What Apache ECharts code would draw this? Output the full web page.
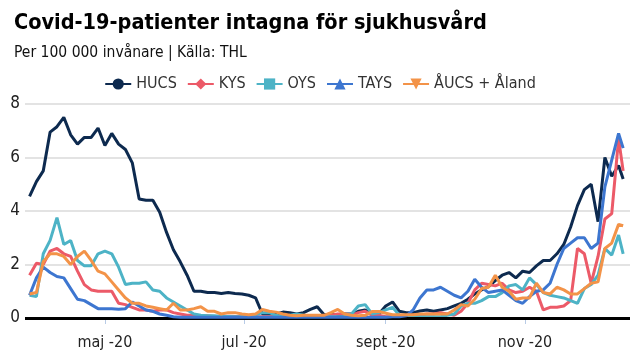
<!DOCTYPE html>
<html><head><meta charset="utf-8">
<script src="https://cdn.jsdelivr.net/npm/echarts@6/dist/echarts.min.js"></script>
<style>html,body{margin:0;padding:0;background:#fff}#c{width:640px;height:360px}</style>
</head><body><div id="c"></div>
<script>
const dates = ['03-29','04-01','04-04','04-07','04-10','04-13','04-16','04-19','04-22','04-25','04-28',
'05-01','05-04','05-07','05-10','05-13','05-16','05-19','05-22','05-25','05-28','05-31',
'06-03','06-06','06-09','06-12','06-15','06-18','06-21','06-24','06-27','06-30',
'07-03','07-06','07-09','07-12','07-15','07-18','07-21','07-24','07-27','07-30',
'08-02','08-05','08-08','08-11','08-14','08-17','08-20','08-23','08-26','08-29',
'09-01','09-04','09-07','09-10','09-13','09-16','09-19','09-22','09-25','09-28',
'10-01','10-04','10-07','10-10','10-13','10-16','10-19','10-22','10-25','10-28','10-31',
'11-03','11-06','11-09','11-12','11-15','11-18','11-21','11-24','11-27','11-30',
'12-03','12-06','12-09','12-12','12-14'];

const hucs = [4.55,5.1,5.5,6.95,7.15,7.5,6.85,6.5,6.75,6.75,7.1,
6.45,6.9,6.5,6.3,5.8,4.45,4.4,4.4,3.95,3.2,2.55,
2.1,1.6,1.0,1.0,0.95,0.95,0.92,0.95,0.92,0.9,
0.85,0.75,0.15,0.15,0.15,0.22,0.2,0.15,0.2,0.32,
0.42,0.12,0.12,0.12,0.15,0.15,0.25,0.3,0.15,0.15,
0.45,0.6,0.25,0.2,0.2,0.26,0.3,0.25,0.3,0.35,
0.45,0.55,0.7,0.9,1.05,1.17,1.4,1.6,1.7,1.5,1.75,
1.7,1.95,2.15,2.15,2.4,2.75,3.4,4.2,4.8,5.0,
3.6,6.0,5.3,5.7,5.2];

const kys = [1.6,2.05,2.0,2.5,2.6,2.4,2.3,1.75,1.25,1.05,1.0,
1.0,1.0,0.55,0.5,0.4,0.3,0.3,0.25,0.3,0.3,0.2,
0.15,0.1,0.1,0.08,0.08,0.06,0.07,0.07,0.06,0.05,
0.05,0.05,0.05,0.05,0.05,0.05,0.05,0.05,0.05,0.05,
0.05,0.08,0.1,0.15,0.15,0.1,0.2,0.25,0.1,0.1,
0.05,0.05,0.05,0.08,0.1,0.1,0.15,0.15,0.2,0.15,
0.1,0.25,0.55,1.05,1.3,1.25,1.2,1.3,1.05,0.95,1.0,
1.15,1.0,0.3,0.4,0.4,0.45,0.65,2.6,2.4,1.3,
2.3,3.7,3.9,6.7,5.5];

const oys = [0.85,0.8,2.4,2.9,3.75,2.75,2.9,2.15,1.95,1.95,2.4,
2.5,2.4,1.9,1.25,1.3,1.3,1.35,1.05,1.0,0.75,0.6,
0.45,0.3,0.15,0.1,0.08,0.08,0.06,0.06,0.05,0.06,
0.08,0.12,0.2,0.2,0.1,0.05,0.1,0.15,0.1,0.05,
0.05,0.05,0.05,0.05,0.05,0.15,0.45,0.5,0.15,0.2,
0.3,0.4,0.1,0.05,0.05,0.05,0.05,0.05,0.05,0.1,
0.15,0.45,0.55,0.55,0.65,0.8,0.8,0.95,1.2,1.25,1.05,
1.5,1.25,0.95,0.85,0.8,0.75,0.65,0.55,1.1,1.25,
1.6,2.6,2.35,3.1,2.4];

const tays = [0.85,1.5,1.9,1.7,1.55,1.5,1.1,0.7,0.65,0.5,0.35,
0.35,0.35,0.33,0.35,0.6,0.45,0.3,0.25,0.15,0.1,0.05,
0.03,0.03,0.03,0.03,0.03,0.03,0.03,0.03,0.03,0.03,
0.03,0.03,0.03,0.03,0.03,0.03,0.03,0.03,0.03,0.03,
0.03,0.03,0.03,0.03,0.03,0.03,0.03,0.03,0.03,0.03,
0.03,0.05,0.05,0.08,0.3,0.75,1.05,1.05,1.15,1.0,
0.85,0.75,1.0,1.45,1.15,0.95,1.0,1.05,0.85,0.65,0.55,
0.8,1.0,1.05,1.3,2.0,2.6,2.8,3.0,3.0,2.6,
2.8,4.9,5.9,6.9,6.35];

const aucs = [0.9,0.95,2.1,2.4,2.4,2.3,2.0,2.3,2.5,2.15,1.75,
1.65,1.35,1.05,0.75,0.55,0.55,0.45,0.4,0.35,0.3,0.55,
0.3,0.3,0.35,0.42,0.25,0.25,0.15,0.2,0.2,0.15,
0.12,0.15,0.32,0.25,0.22,0.15,0.1,0.08,0.1,0.1,
0.1,0.1,0.2,0.32,0.15,0.1,0.08,0.1,0.24,0.24,
0.18,0.12,0.12,0.12,0.12,0.15,0.15,0.15,0.15,0.15,
0.3,0.5,0.45,0.7,1.1,1.15,1.6,1.15,1.0,0.7,0.75,
0.75,1.3,0.95,0.9,1.15,1.05,0.9,0.9,1.1,1.3,
1.35,2.6,2.8,3.5,3.45];

const seriesNames = ['HUCS','KYS','OYS','TAYS','ÅUCS + Åland'];
const yTicks = [0,2,4,6,8];
const tickDates = ['05-01','07-01','09-01','11-01'];
const tickLabels = ['maj -20','jul -20','sept -20','nov -20'];

function toDay(md){ const p = md.split('-'); return (Date.UTC(2020, +p[0]-1, +p[1]) - Date.UTC(2020,0,1)) / 86400000; }
const days = dates.map(toDay);
const tickDays = tickDates.map(toDay);

const colors = ['#0d2a4f','#ec5a68','#4db3c6','#3d76d0','#f39348'];
const symbols = ['circle','diamond','rect','triangle','triangle'];
const rotates = [0,0,0,0,180];
const values = [hucs,kys,oys,tays,aucs];
const FONT = '"Liberation Sans Narrow", "DejaVu Sans Condensed", sans-serif';

const chart = echarts.init(document.getElementById('c'), null, {renderer:'canvas'});
chart.setOption({
  animation:false,
  color: colors,
  title: [{
    text:'Covid-19-patienter intagna för sjukhusvård',
    left:9, top:7,
    textStyle:{fontFamily:FONT,fontWeight:'bold',fontSize:21.5,color:'#000'}
  },{
    text:'Per 100 000 invånare | Källa: THL',
    left:9, top:40,
    textStyle:{fontFamily:FONT,fontWeight:'normal',fontSize:15.5,color:'#111'}
  }],
  legend:{
    top:71, left:'center',
    itemWidth:26, itemHeight:14, itemGap:10,
    textStyle:{fontFamily:FONT,fontSize:16,color:'#333'},
    data: seriesNames
  },
  grid:{left:25,right:10,top:104,bottom:42,containLabel:false},
  xAxis:{
    type:'value',
    min: toDay('03-27'), max: toDay('12-17'),
    axisLine:{show:false},
    splitLine:{show:false},
    axisTick:{show:true,customValues:tickDays,length:6,lineStyle:{color:'#b8cbe6',width:1}},
    axisLabel:{customValues:tickDays,fontFamily:FONT,fontSize:16,color:'#222',margin:17,
      formatter:function(v){
        const i = tickDays.indexOf(v);
        return i>=0 ? tickLabels[i] : '';
      }}
  },
  yAxis:{
    type:'value', min:0, max:8, interval:2,
    axisLine:{show:false}, axisTick:{show:false},
    splitLine:{lineStyle:{color:'#e3e3e3',width:2}},
    axisLabel:{fontFamily:FONT,fontSize:17,color:'#222',margin:5,
      formatter:function(v){ return yTicks.indexOf(v)>=0 ? String(v) : ''; }}
  },
  series: seriesNames.map(function(n,i){
    const s = {
      name:n, type:'line', showSymbol:false, symbol:symbols[i], symbolRotate:rotates[i],
      symbolSize:10,
      lineStyle:{width:3,color:colors[i]}, itemStyle:{color:colors[i]},
      data: days.map(function(t,j){ return [t, values[i][j]]; }),
      z: 2+i
    };
    if(i===0){
      s.markLine = {silent:true,symbol:'none',label:{show:false},
        lineStyle:{color:'#000',width:3,type:'solid'},data:[{yAxis:0}]};
    }
    return s;
  })
});
</script></body></html>
